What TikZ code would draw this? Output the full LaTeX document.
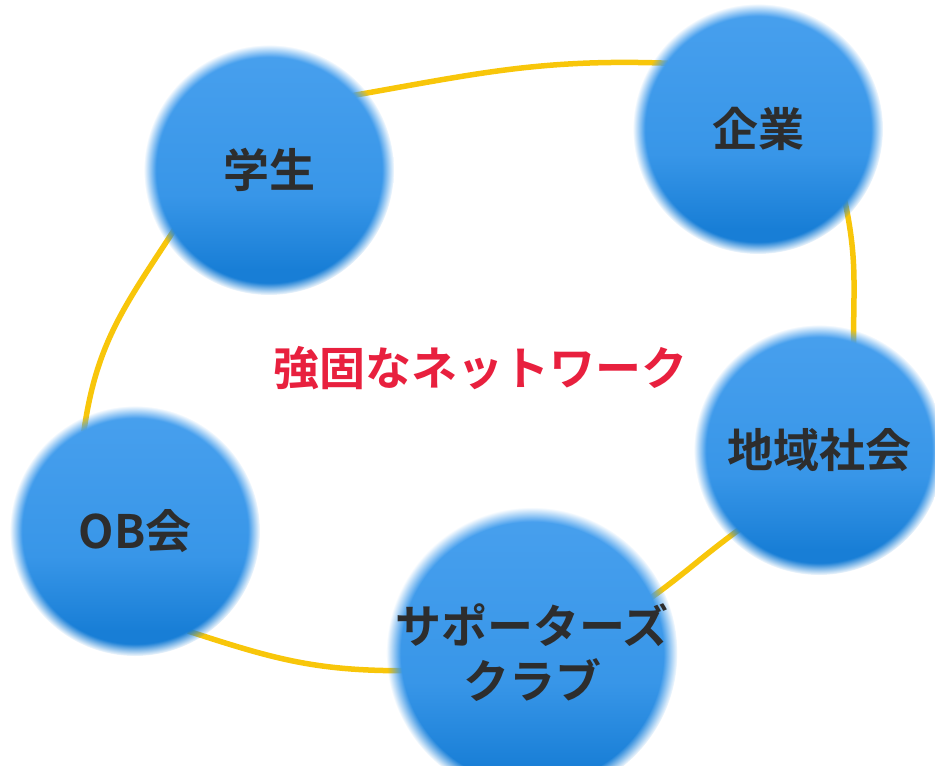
\documentclass[tikz,border=0pt]{standalone}
\usepackage{fontspec}
\usetikzlibrary{fadings}
\newfontfamily\jpfont{Noto Sans CJK JP Bold}
\definecolor{bubbletop}{RGB}{72,160,238}
\definecolor{bubblemid}{RGB}{56,150,232}
\definecolor{bubblelow}{RGB}{24,126,214}
\definecolor{ringyellow}{RGB}{248,198,10}
\definecolor{netred}{RGB}{232,32,62}
\definecolor{labelgray}{RGB}{45,45,45}
\pgfdeclareverticalshading{bubble}{100bp}{color(0bp)=(bubblelow); color(30bp)=(bubblelow); color(45bp)=(bubblemid); color(75bp)=(bubbletop); color(100bp)=(bubbletop)}
\pgfdeclarelayer{back}
\pgfsetlayers{back,main}
\tikzset{
  member/.style={circle, minimum size=250pt, inner sep=0pt, shading=bubble,
    path fading=circle with fuzzy edge 10 percent,
    font=\jpfont\fontsize{46}{55}\selectfont, text=labelgray, align=center},
  ring/.style={ringyellow, line width=5.5pt, shorten <=-16pt, shorten >=-16pt},
}
\begin{document}
\begin{tikzpicture}[x=1pt, y=1pt]
  \useasboundingbox (0,0) rectangle (935,766);
  \node[member] (st) at (269,596) {学生};
  \node[member] (kg) at (758,637) {企業};
  \node[member] (cs) at (819,316) {地域社会};
  \node[member] (ob) at (135,235) {OB会};
  \node[member] (sp) at (532,113) {サポーターズ\\クラブ};
  \node[font=\jpfont\fontsize{46}{54}\selectfont, text=netred] (net) at (480,398) {強固なネットワーク};
  \begin{pgfonlayer}{back}
    \draw[ring] (st.38) to[out=10, in=178] (kg.148);
    \draw[ring] (kg.-44) to[out=-78, in=90] (cs.74);
    \draw[ring] (cs.224) to[out=216, in=36] (sp.26);
    \draw[ring] (sp.187) to[out=180, in=-18] (ob.-57);
    \draw[ring] (ob.113) to[out=82, in=237] (st.215);
  \end{pgfonlayer}
\end{tikzpicture}
\end{document}
